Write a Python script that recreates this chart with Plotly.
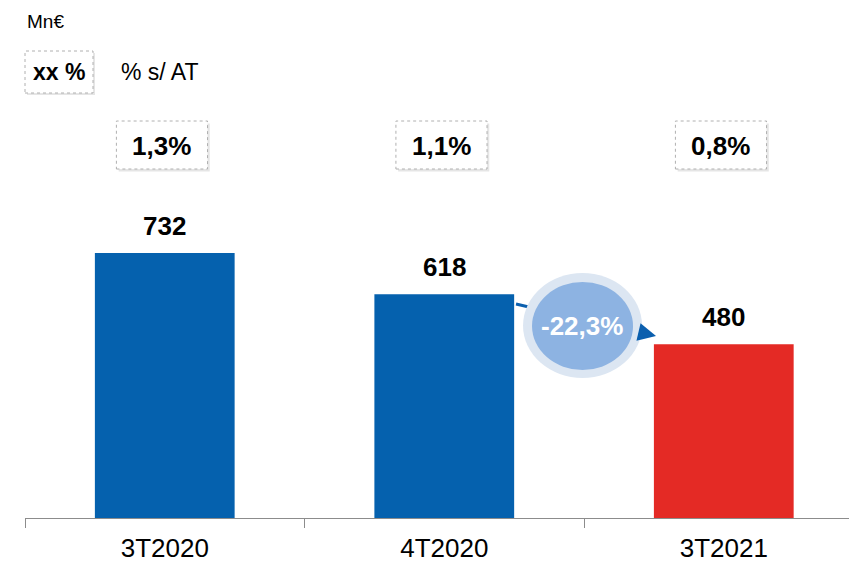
import plotly.graph_objects as go

periods = ["3T2020", "4T2020", "3T2021"]
values = [732, 618, 480]
ratio_labels = ["1,3%", "1,1%", "0,8%"]
bar_colors = ["#0561AE", "#0561AE", "#E42A25"]
change_label = "-22,3%"

FONT = "Liberation Sans, Arial, sans-serif"
H = 518  # plot height in px (top margin 0)


def py(px):
    # pixel row from top -> paper y
    return (H - px) / H


fig = go.Figure()
fig.add_trace(go.Bar(x=periods, y=values, marker=dict(color=bar_colors, line=dict(width=0)),
                     width=0.5, hoverinfo="skip"))

shapes = []
annotations = []

# value labels above the bars
for p, v in zip(periods, values):
    annotations.append(dict(x=p, y=v, xref="x", yref="y", text="<b>%d</b>" % v, showarrow=False,
                            xanchor="center", yanchor="bottom", yshift=10,
                            font=dict(family=FONT, size=26, color="black")))

# ratio boxes
for i, lab in enumerate(ratio_labels):
    c = i - 0.01
    for dx, col, lw, dash in [(0.008, "rgba(0,0,0,0.10)", 0, None), (0, "white", 1, "dot")]:
        shapes.append(dict(type="rect", xref="x", yref="paper", x0=c - 0.163 + dx, x1=c + 0.163 + dx,
                           y0=py(169) - dx * 0.6, y1=py(121) - dx * 0.6, fillcolor=col,
                           line=dict(color="#B0B0B0", width=lw, dash=dash or "solid"), layer="above"))
    annotations.append(dict(x=c, y=py(146), xref="x", yref="paper", text="<b>%s</b>" % lab,
                            xanchor="center", yanchor="middle", showarrow=False,
                            font=dict(family=FONT, size=26, color="black")))

# legend box
shapes.append(dict(type="rect", xref="paper", yref="paper", x0=2 / 824, x1=70 / 824, y0=py(95), y1=py(53),
                   fillcolor="rgba(0,0,0,0.10)", line=dict(width=0)))
shapes.append(dict(type="rect", xref="paper", yref="paper", x0=0, x1=68 / 824, y0=py(93), y1=py(51),
                   fillcolor="white", line=dict(color="#B0B0B0", width=1, dash="dot")))
annotations.append(dict(x=34 / 824, y=py(72), xref="paper", yref="paper", text="<b>xx %</b>",
                        xanchor="center", yanchor="middle", showarrow=False,
                        font=dict(family=FONT, size=23, color="black")))
annotations.append(dict(x=94 / 824, y=py(72), xref="paper", yref="paper", text="% s/ AT",
                        xanchor="left", yanchor="middle", showarrow=False,
                        font=dict(family=FONT, size=23, color="black")))
annotations.append(dict(x=0, y=py(21), xref="paper", yref="paper", text="Mn€",
                        xanchor="left", yanchor="middle", showarrow=False,
                        font=dict(family=FONT, size=19, color="black")))


# change arrow + bubble
def cx(px):
    return (px - 25) / 279.5 - 0.5


def cy(px):
    return (H - px) / 0.36202


shapes.append(dict(type="line", xref="x", yref="y", x0=cx(516), y0=cy(304), x1=cx(640), y1=cy(333),
                   line=dict(color="#0B5FAE", width=3)))
shapes.append(dict(type="circle", xref="x", yref="y", x0=cx(523), x1=cx(642), y0=cy(378), y1=cy(273),
                   fillcolor="#DCE6F2", line=dict(width=0)))
shapes.append(dict(type="circle", xref="x", yref="y", x0=cx(532), x1=cx(633), y0=cy(370), y1=cy(282),
                   fillcolor="#8DB3E2", line=dict(width=0)))
annotations.append(dict(x=cx(656), y=cy(336), ax=cx(641), ay=cy(332.5), xref="x", yref="y", axref="x",
                        ayref="y", text="", showarrow=True, arrowhead=2, arrowsize=1.2, arrowwidth=3,
                        arrowcolor="#0B5FAE"))
annotations.append(dict(x=cx(582), y=cy(326), xref="x", yref="y", text="<b>%s</b>" % change_label,
                        xanchor="center", yanchor="middle", showarrow=False,
                        font=dict(family=FONT, size=26, color="white")))

fig.update_layout(
    width=849, height=563,
    margin=dict(l=25, r=0, t=0, b=45),
    plot_bgcolor="white", paper_bgcolor="white",
    showlegend=False,
    shapes=shapes, annotations=annotations,
    xaxis=dict(type="category", range=[-0.5, 2.448], tickson="boundaries", ticks="outside", ticklen=9,
               tickcolor="#8C8C8C", showline=True, linecolor="#8C8C8C", linewidth=1, showgrid=False,
               ticklabelstandoff=7, tickfont=dict(family=FONT, size=26, color="black")),
    yaxis=dict(range=[0, 1430.9], visible=False, showgrid=False, zeroline=False),
)

fig.write_html("out.html", config={"displayModeBar": False},
               post_script="document.body.style.margin='0';")
